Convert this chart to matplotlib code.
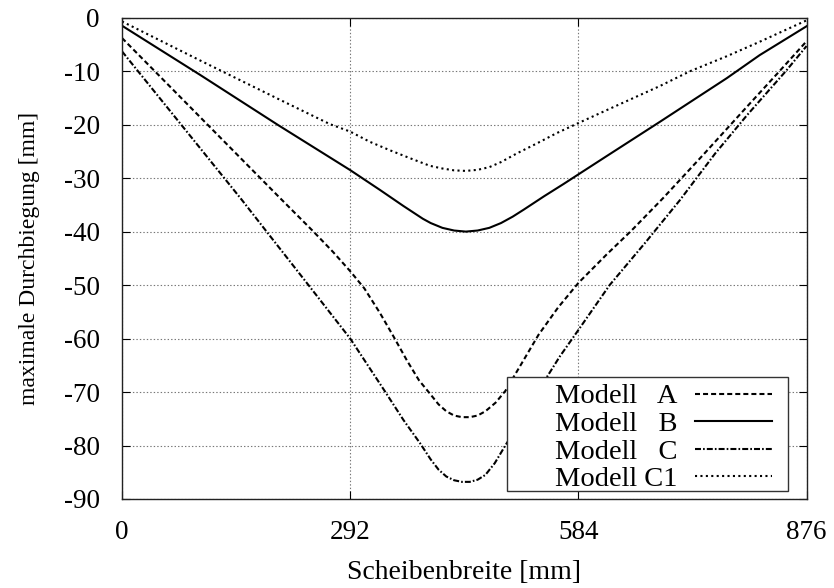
import matplotlib
matplotlib.use("Agg")
import matplotlib.pyplot as plt
from matplotlib.patches import Rectangle

plt.rcParams['font.family'] = ['Liberation Serif', 'DejaVu Serif']
plt.rcParams['lines.scale_dashes'] = False

# Data (x in mm, deflection in mm)
xA = [0, 100, 200, 245, 270, 292, 310, 330, 347, 365, 380, 394, 405, 415, 425, 435, 445, 455, 465, 478, 490.5, 510, 533, 558, 584, 620, 652, 692, 744, 800, 842, 876]
yA = [-3.8, -18.6, -33.4, -40, -43.8, -47.4, -50.6, -55.2, -59.5, -64.2, -67.8, -70.3, -72.3, -73.6, -74.4, -74.7, -74.7, -74.4, -73.6, -72.0, -69.8, -65.0, -59.3, -54.2, -49.6, -44.3, -39.8, -33.8, -25.6, -16.6, -9.9, -4.4]

xB = [0, 100, 200, 292, 330, 360, 385, 395, 410, 425, 440, 455, 470, 485, 500, 514, 540, 565, 584, 620, 688, 731, 774, 816, 876]
yB = [-1.5, -10.7, -20.1, -28.5, -32.2, -35.2, -37.6, -38.4, -39.3, -39.8, -40.0, -39.8, -39.3, -38.4, -37.2, -35.9, -33.4, -31.1, -29.3, -25.9, -19.5, -15.4, -11.3, -7.0, -1.6]

xC = [0, 100, 153.5, 185, 238.6, 292, 337, 360, 381.5, 395, 405, 415, 425, 435, 445, 455, 465, 477, 490.5, 505, 520, 539, 560, 584, 624, 670, 714, 759, 800, 850, 876]
yC = [-6.3, -24.4, -34.1, -40, -50, -60, -70, -75.2, -79.6, -82.6, -84.5, -85.8, -86.5, -86.8, -86.8, -86.4, -85.5, -83.3, -80, -76.6, -72.8, -68.3, -63.4, -58.4, -50, -42, -34.1, -25.4, -18.2, -9.9, -5.3]

xC1 = [0, 100, 200, 266, 292, 317, 343, 369, 394, 410, 425, 440, 455, 470, 485, 505, 531, 556, 584, 620, 688, 727, 774, 816, 876]
yC1 = [-0.7, -8.0, -15.2, -19.9, -21.3, -23.2, -24.8, -26.3, -27.7, -28.2, -28.55, -28.65, -28.45, -27.95, -27.0, -25.4, -23.5, -21.6, -19.7, -17.3, -12.8, -10.0, -7.2, -4.5, -0.5]

labels = ["Modell   A", "Modell   B", "Modell   C", "Modell C1"]
xticks = [0, 292, 584, 876]
yticks = [0, -10, -20, -30, -40, -50, -60, -70, -80, -90]

fig = plt.figure(figsize=(8.34, 5.88), dpi=100)
ax = fig.add_axes([0.1463, 0.1514, 0.9671 - 0.1463, 0.9699 - 0.1514])

lw = 1.5
ax.plot(xA, yA, color='black', lw=lw, linestyle=(0, (3.6, 2.2)), label=labels[0])
ax.plot(xB, yB, color='black', lw=lw, linestyle='-', label=labels[1])
ax.plot(xC, yC, color='black', lw=lw, linestyle=(0, (4.3, 1.5, 1.2, 1.5)), label=labels[2])
ax.plot(xC1, yC1, color='black', lw=lw, linestyle=(0, (1.5, 2.4)), label=labels[3])

ax.set_xlim(0, 876)
ax.set_ylim(-90, 0)
ax.set_xticks(xticks)
ax.set_yticks(yticks)
ax.set_xticklabels([str(t) for t in xticks])
ax.set_yticklabels([str(t) for t in yticks])

ax.grid(True, color='#777777', linestyle=(0, (1, 1.5)), linewidth=0.8)
ax.tick_params(direction='in', length=6, width=0.8, top=True, right=True,
               labelsize=19.5, colors='black')
ax.tick_params(axis='y', pad=16)
ax.tick_params(axis='x', pad=15)
for s in ax.spines.values():
    s.set_linewidth(1.0)
    s.set_color('#222222')

ax.set_xlabel("Scheibenbreite [mm]", fontsize=20, labelpad=11)
ax.set_ylabel("maximale Durchbiegung [mm]", fontsize=17, labelpad=17)

# legend frame (white box) drawn separately
box = Rectangle((0.5624, 0.0166), 0.9728 - 0.5624, 0.2535 - 0.0166,
                transform=ax.transAxes, facecolor='white', edgecolor='#333333',
                linewidth=1.0, zorder=5)
ax.add_patch(box)

leg = ax.legend(loc='lower right', bbox_to_anchor=(0.9495, 0.0137), borderaxespad=0,
                markerfirst=False, frameon=False,
                fontsize=20.5, handlelength=2.7, handletextpad=0.63, labelspacing=0.06,
                borderpad=0)
leg.set_zorder(6)

fig.savefig("out.png", dpi=100)
